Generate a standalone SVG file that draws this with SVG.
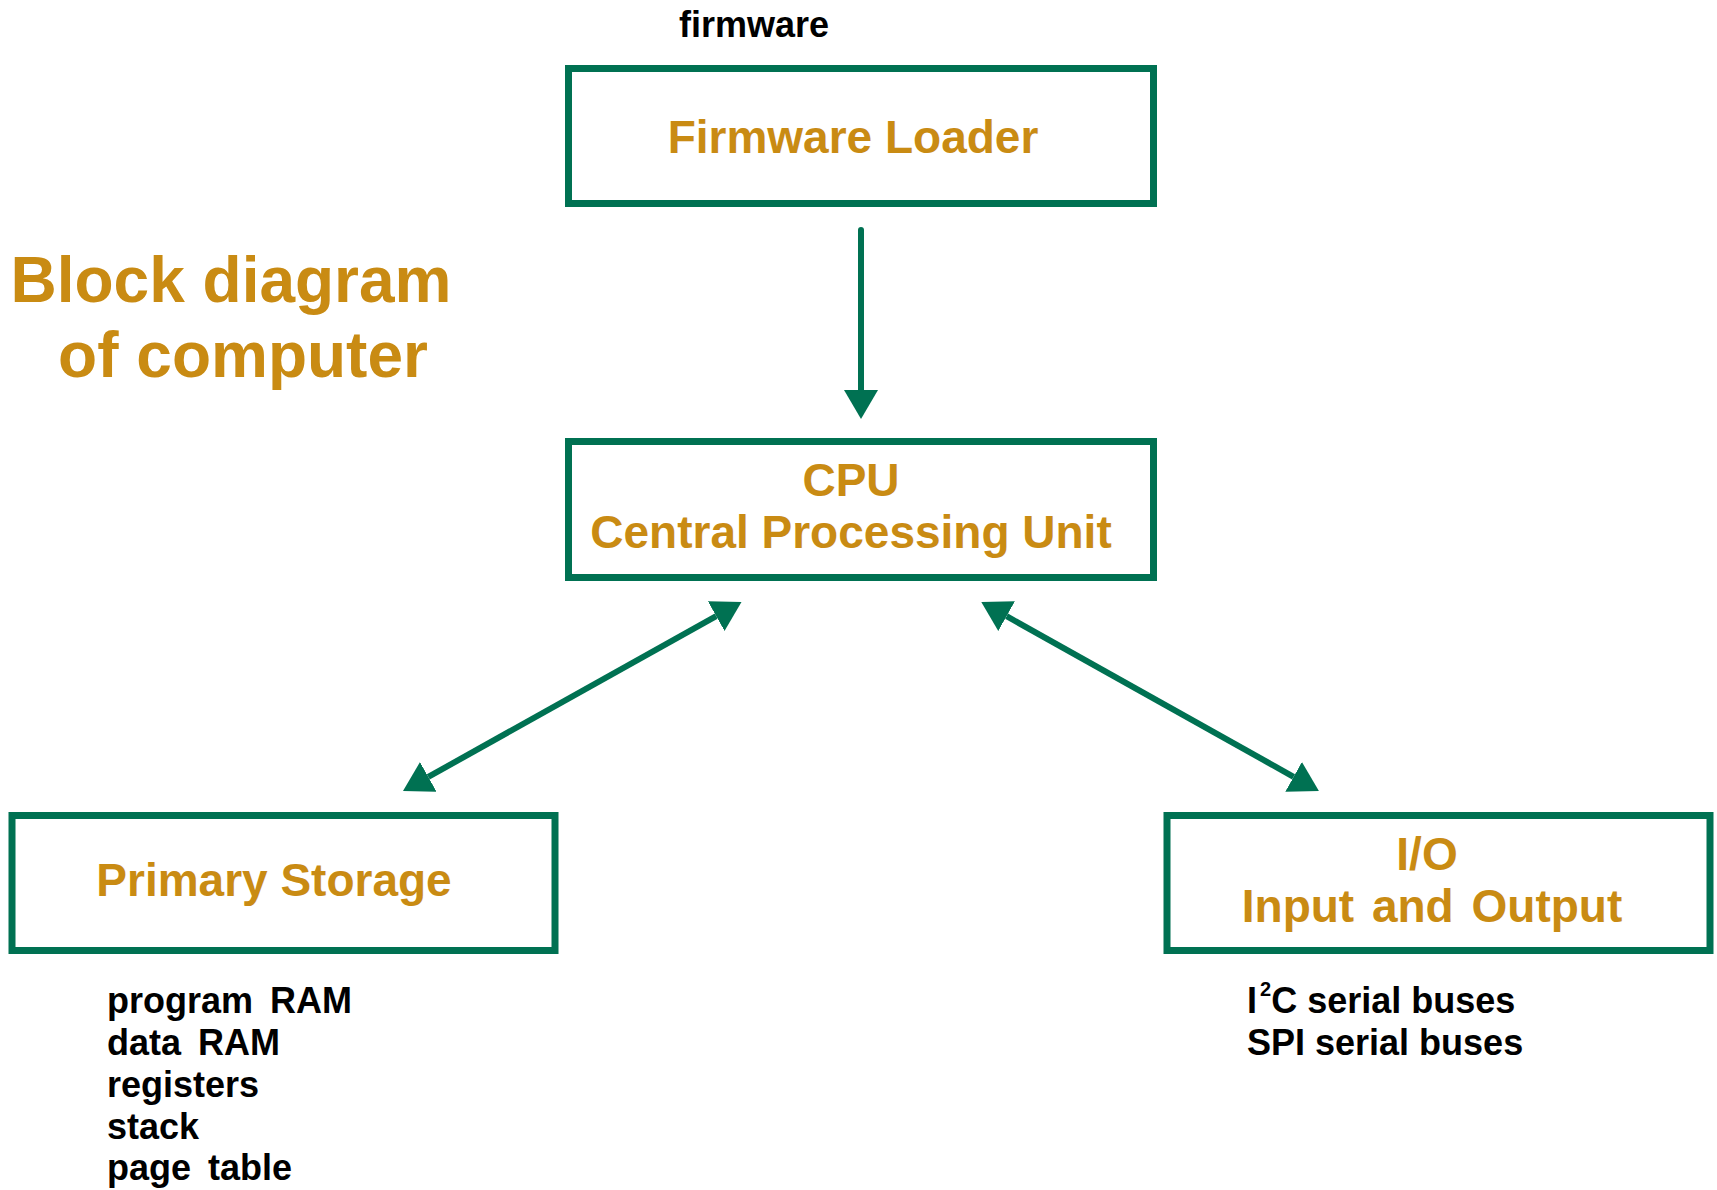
<svg xmlns="http://www.w3.org/2000/svg" width="1717" height="1190" viewBox="0 0 1717 1190">
  <style>
    .box { fill: #ffffff; stroke: #007152; stroke-width: 7; }
    .lbl { font-family: "Liberation Sans", Arial, sans-serif; font-weight: bold; font-size: 46px; fill: #C98B13; text-anchor: middle; }
    .title { font-family: "Liberation Sans", Arial, sans-serif; font-weight: bold; font-size: 64px; fill: #C98B13; text-anchor: middle; }
    .note { font-family: "Liberation Sans", Arial, sans-serif; font-weight: bold; font-size: 36px; fill: #000000; }
    .list { word-spacing: 7px; }
    .conn { stroke: #007152; stroke-width: 6; fill: none; }
  </style>
  <defs>
    <marker id="head" viewBox="0 0 29 34" refX="0" refY="17" markerWidth="29" markerHeight="34" markerUnits="userSpaceOnUse" orient="auto-start-reverse">
      <path d="M0,0 L29,17 L0,34 z" fill="#007152"/>
    </marker>
  </defs>
  <rect width="1717" height="1190" fill="#ffffff"/>

  <g id="title">
    <text class="title" x="231" y="302">Block diagram</text>
    <text class="title" x="243" y="377">of computer</text>
  </g>

  <g id="firmware-label">
    <text class="note" x="754" y="37" text-anchor="middle">firmware</text>
  </g>

  <g id="firmware-loader">
    <rect class="box" x="568.5" y="68.5" width="585" height="135"/>
    <text class="lbl" x="853" y="153">Firmware Loader</text>
  </g>

  <g id="cpu">
    <rect class="box" x="568.5" y="441.5" width="585" height="136"/>
    <text class="lbl" x="851" y="496">CPU</text>
    <text class="lbl" x="851" y="548">Central Processing Unit</text>
  </g>

  <g id="primary-storage">
    <rect class="box" x="12" y="815.5" width="543" height="135"/>
    <text class="lbl" x="274" y="896">Primary Storage</text>
    <text class="note list" x="107" y="1013">program RAM</text>
    <text class="note list" x="107" y="1055">data RAM</text>
    <text class="note list" x="107" y="1097">registers</text>
    <text class="note list" x="107" y="1139">stack</text>
    <text class="note list" x="107" y="1180">page table</text>
  </g>

  <g id="io">
    <rect class="box" x="1167" y="815.5" width="543" height="135"/>
    <text class="lbl" x="1427" y="870" font-size="48">I/O</text>
    <text class="lbl" x="1432" y="922" word-spacing="5">Input and Output</text>
    <text class="note" x="1247" y="1013">I<tspan font-size="20" dx="3" dy="-17">2</tspan><tspan dy="17">C serial buses</tspan></text>
    <text class="note" x="1247" y="1055">SPI serial buses</text>
  </g>

  <g id="connectors">
    <line class="conn" x1="861" y1="230" x2="861" y2="390" stroke-linecap="round" marker-end="url(#head)"/>
    <line class="conn" x1="428.3" y1="776.9" x2="716.2" y2="616.1" marker-start="url(#head)" marker-end="url(#head)"/>
    <line class="conn" x1="1006.6" y1="616.2" x2="1293.6" y2="776.8" marker-start="url(#head)" marker-end="url(#head)"/>
  </g>
</svg>
